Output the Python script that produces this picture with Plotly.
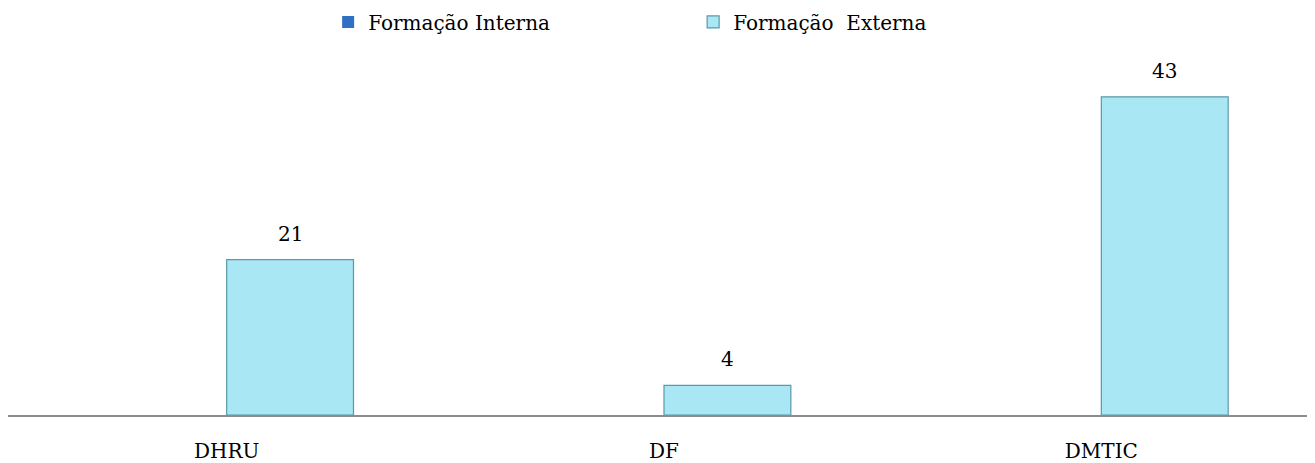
import plotly.graph_objects as go

categories = ["DHRU", "DF", "DMTIC"]
interna = [0, 0, 0]
externa = [21, 4, 43]

fig = go.Figure()

fig.add_trace(
    go.Bar(
        x=categories,
        y=interna,
        name="Formação Interna",
        marker_color="#2f6fc4",
        marker_line_width=0,
    )
)

fig.add_trace(
    go.Bar(
        x=categories,
        y=externa,
        name="Formação\u00a0 Externa",
        marker_color="#a9e7f4",
        marker_line=dict(color="#5b99a6", width=1.2),
    )
)

# value labels above the Externa bars (right bar of each group)
for i, v in enumerate(externa):
    fig.add_annotation(
        x=i + 0.145,
        y=v,
        text=str(v),
        showarrow=False,
        yanchor="middle",
        yshift=26,
        font=dict(size=20, color="black"),
    )

fig.update_layout(
    width=1312,
    height=463,
    margin=dict(l=0, r=0, t=37, b=56, autoexpand=False),
    paper_bgcolor="white",
    plot_bgcolor="white",
    barmode="group",
    bargap=0.42,
    bargroupgap=0,
    font=dict(family="DejaVu Serif", size=20, color="black"),
    showlegend=True,
    legend=dict(
        orientation="h",
        x=0.244,
        xanchor="left",
        yref="container",
        y=0.97,
        yanchor="middle",
        font=dict(size=20),
        entrywidth=320,
        itemwidth=30,
    ),
)

fig.update_xaxes(
    showline=True,
    linecolor="#8c8c8c",
    linewidth=2,
    ticks="",
    showgrid=False,
    tickfont=dict(size=20),
    ticklabelstandoff=17,
    automargin=False,
)
fig.update_yaxes(
    range=[0, 50],
    visible=False,
    showgrid=False,
    zeroline=False,
)

fig.write_html("out.html")
